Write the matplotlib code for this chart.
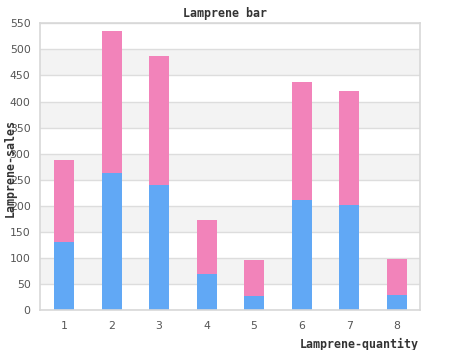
import matplotlib
matplotlib.use("Agg")
import matplotlib.pyplot as plt
import numpy as np

categories = ["1", "2", "3", "4", "5", "6", "7", "8"]
blue_values = [131, 264, 240, 70, 28, 212, 202, 29]
pink_values = [157, 271, 247, 104, 68, 225, 218, 69]
y_ticks = [0, 50, 100, 150, 200, 250, 300, 350, 400, 450, 500, 550]

fig = plt.figure(figsize=(4.5, 3.5), dpi=100)
ax = fig.add_axes([40.3 / 450, 1 - 310.3 / 350, 380 / 450, 287 / 350])

x = np.arange(len(categories))
blue_c = "#61a8f5"
pink_c = "#f283ba"

# alternating bands
for i in range(len(y_ticks) - 1):
    if i % 2 == 1:
        ax.axhspan(y_ticks[i], y_ticks[i + 1], color="#f3f3f3", zorder=0, lw=0)
for t in y_ticks:
    ax.axhline(t, color="#dddddd", lw=1, zorder=1)

ax.bar(x, blue_values, width=0.42, color=blue_c, zorder=2)
ax.bar(x, pink_values, width=0.42, bottom=blue_values, color=pink_c, zorder=2)

ax.set_xlim(-0.5, len(categories) - 0.5)
ax.set_ylim(0, 550)
ax.set_xticks(x)
ax.set_xticklabels(categories)
ax.set_yticks(y_ticks)
ax.tick_params(length=0, labelsize=7.8, labelcolor="#555555")
ax.tick_params(axis="y", pad=7)
ax.tick_params(axis="x", pad=8)
for s in ax.spines.values():
    s.set_color("#d8d8d8")
    s.set_linewidth(1.2)

mono = dict(family="DejaVu Sans Mono", fontweight="bold", fontsize=8.4, color="#333333")
fig.text(225 / 450, 1 - 13 / 350, "Lamprene bar", ha="center", va="center", **mono)
fig.text(419 / 450, 6 / 350, "Lamprene-quantity", ha="right", va="center", **mono)
fig.text(10 / 450, 1 - 168 / 350, "Lamprene-sales", ha="center", va="center", rotation=90, **mono)

fig.savefig("out.png", dpi=100)
